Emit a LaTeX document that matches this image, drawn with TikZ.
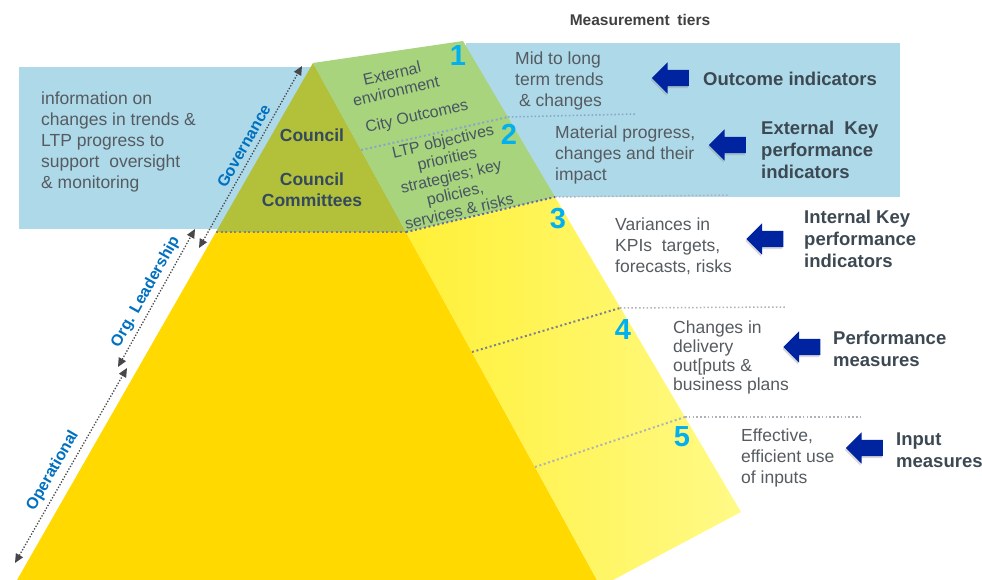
\documentclass[tikz,border=0pt]{standalone}
\usepackage{fontspec}
\setmainfont{Liberation Sans}
\usetikzlibrary{arrows.meta,shapes.arrows,shadows}

\definecolor{boxblue}{RGB}{174,217,233}
\definecolor{frontyel}{RGB}{255,217,0}
\definecolor{sideyelA}{RGB}{255,240,55}
\definecolor{sideyelB}{RGB}{255,250,135}
\definecolor{topolive}{RGB}{178,192,58}
\definecolor{topgreen}{RGB}{169,212,126}
\definecolor{txtgray}{RGB}{85,91,96}
\definecolor{lblgray}{RGB}{60,72,82}
\definecolor{councilblue}{RGB}{52,73,94}
\definecolor{sidegray}{RGB}{70,85,98}
\definecolor{numcyan}{RGB}{0,176,240}
\definecolor{axisblue}{RGB}{0,112,192}
\definecolor{navyarr}{RGB}{0,36,160}
\definecolor{dotgray}{RGB}{125,130,145}
\definecolor{lightdot}{RGB}{175,178,185}
\definecolor{bluedot}{RGB}{135,165,200}
\definecolor{tipgray}{RGB}{70,70,75}

\tikzset{
  bodytxt/.style={font=\fontsize{17.5}{21}\selectfont, text=txtgray, align=left, anchor=west, inner sep=0pt},
  boldlbl/.style={font=\fontsize{18.5}{22}\selectfont\bfseries, text=lblgray, align=left, anchor=west, inner sep=0pt},
  counciltxt/.style={font=\fontsize{17.5}{21}\selectfont\bfseries, text=councilblue, align=center, inner sep=0pt},
  sidetxt/.style={font=\fontsize{16}{18}\selectfont, text=sidegray, align=center, rotate=13, inner sep=0pt},
  tiernum/.style={font=\fontsize{29}{29}\selectfont\bfseries, text=numcyan, inner sep=0pt},
  titletxt/.style={font=\fontsize{15.5}{18}\selectfont\bfseries, text=black!75, inner sep=0pt},
  axislbl/.style={font=\fontsize{16}{17}\selectfont\bfseries, text=axisblue, inner sep=0pt},
  tierdots/.style={line width=2pt, dash pattern=on 2pt off 2.6pt, draw=dotgray},
  extdots/.style={line width=1.5pt, dash pattern=on 1.5pt off 2.3pt, draw=lightdot},
  dimarrow/.style={{Triangle[length=9pt,width=8pt]}-{Triangle[length=9pt,width=8pt]}, line width=1.3pt, dash pattern=on 1.3pt off 1.7pt, draw=tipgray},
  blkarrow/.style={single arrow, shape border rotate=180, fill=navyarr, minimum height=37pt, inner xsep=0pt, inner ysep=8pt, single arrow head extend=7.5pt, drop shadow={shadow xshift=-1pt, shadow yshift=-2pt, opacity=0.3}}
}

\begin{document}
\begin{tikzpicture}[x=1pt,y=-1pt]
\useasboundingbox (0,0) rectangle (982,580);

% blue bands
\fill[boxblue] (19,67) rectangle (400,229);
\fill[boxblue] (466,43) rectangle (900,197);

% pyramid corners
\coordinate (apex) at (313,63);
\coordinate (baseL) at (17,580);
\coordinate (baseR) at (597,580);
\coordinate (sideT) at (463,41);
\coordinate (sideR) at (741,512);
\coordinate (sideB) at (613,580);
\coordinate (cutL) at (216,232);
\coordinate (cutR) at (406,232);
\coordinate (cutS) at (555,197);

% faces
\fill[frontyel] (cutL) -- (cutR) -- (baseR) -- (baseL) -- cycle;
\fill[topolive] (apex) -- (cutR) -- (cutL) -- cycle;
\shade[left color=sideyelA, right color=sideyelB] (cutR) -- (cutS) -- (sideR) -- (sideB) -- (baseR) -- cycle;
\fill[topgreen] (apex) -- (sideT) -- (cutS) -- (cutR) -- cycle;

% tier lines
\draw[tierdots, draw=bluedot] (361,150) -- (508,117);
\draw[extdots, draw=bluedot] (508,117) -- (637,114);
\draw[tierdots] (cutL) -- (cutR);
\draw[tierdots, draw=dotgray!80!blue] (cutR) -- (cutS);
\draw[extdots] (cutS) -- (729,195);
\draw[tierdots] (472,352) -- (620,308);
\draw[extdots] (620,308) -- (785,307);
\draw[tierdots, draw=lightdot] (535,467) -- (685,417);
\draw[extdots] (685,417) -- (861,417);

% tier numbers
\node[tiernum] (n1) at (458,56) {1};
\node[tiernum] (n2) at (509,134) {2};
\node[tiernum] (n3) at (558,219) {3};
\node[tiernum] (n4) at (623,330) {4};
\node[tiernum] (n5) at (682,437) {5};

% pyramid texts
\node[counciltxt] (council) at (312,135) {Council};
\node[counciltxt] (committees) at (312,190) {Council\\Committees};
\node[sidetxt] (extenv) at (394,82) {External\\environment};
\node[sidetxt] (cityout) at (417,117) {City Outcomes};
\node[sidetxt] (ltpobj) at (451,176) {LTP objectives\\priorities\\strategies; key\\policies,\\services \& risks};

% left side arrows
\coordinate (govTop) at (302,66);
\coordinate (govBot) at (199,248);
\coordinate (orgTop) at (195,229);
\coordinate (orgBot) at (118,367);
\coordinate (opTop) at (127,368);
\coordinate (opBot) at (15,563);
\draw[dimarrow] (govBot) -- node[axislbl, sloped, above=5pt, pos=0.53] {Governance} (govTop);
\draw[dimarrow] (orgBot) -- node[axislbl, sloped, above=4pt, pos=0.5] {Org. Leadership} (orgTop);
\draw[dimarrow] (opBot) -- node[axislbl, sloped, above=5pt, pos=0.44] {Operational} (opTop);

% texts
\node[titletxt] (title) at (640,20) {Measurement\hspace{0.5em}tiers};
\node[bodytxt] (infotxt) at (41,142) {information on\\changes in trends \&\\LTP progress to\\support\ \ oversight\\\& monitoring};
\node[bodytxt] (midtxt) at (515,81) {Mid to long\\term trends\\\hspace{4pt}\& changes};
\node[bodytxt] (mattxt) at (555,155) {Material progress,\\changes and their\\impact};
\node[bodytxt] (vartxt) at (615,246.5) {Variances in\\KPIs\ \ targets,\\forecasts, risks};
\node[bodytxt, font=\fontsize{17.5}{19}\selectfont] (chgtxt) at (673,357) {Changes in\\delivery\\out[puts \&\\business plans};
\node[bodytxt] (efftxt) at (741,458) {Effective,\\efficient use\\of inputs};

% indicator labels
\node[boldlbl] (outlbl) at (703,79) {Outcome indicators};
\node[boldlbl] (extlbl) at (761,150) {External\ \ Key\\performance\\indicators};
\node[boldlbl] (intlbl) at (804,239) {Internal Key\\performance\\indicators};
\node[boldlbl] (perflbl) at (833,348.5) {Performance\\measures};
\node[boldlbl] (inlbl) at (896,450) {Input\\measures};

% block arrows
\node[blkarrow] (outarr) at (674.5,78) {};
\node[blkarrow] (extarr) at (731.5,145) {};
\node[blkarrow] (intarr) at (769,239) {};
\node[blkarrow] (perfarr) at (806,347) {};
\node[blkarrow] (inarr) at (868.5,448) {};

\end{tikzpicture}
\end{document}
